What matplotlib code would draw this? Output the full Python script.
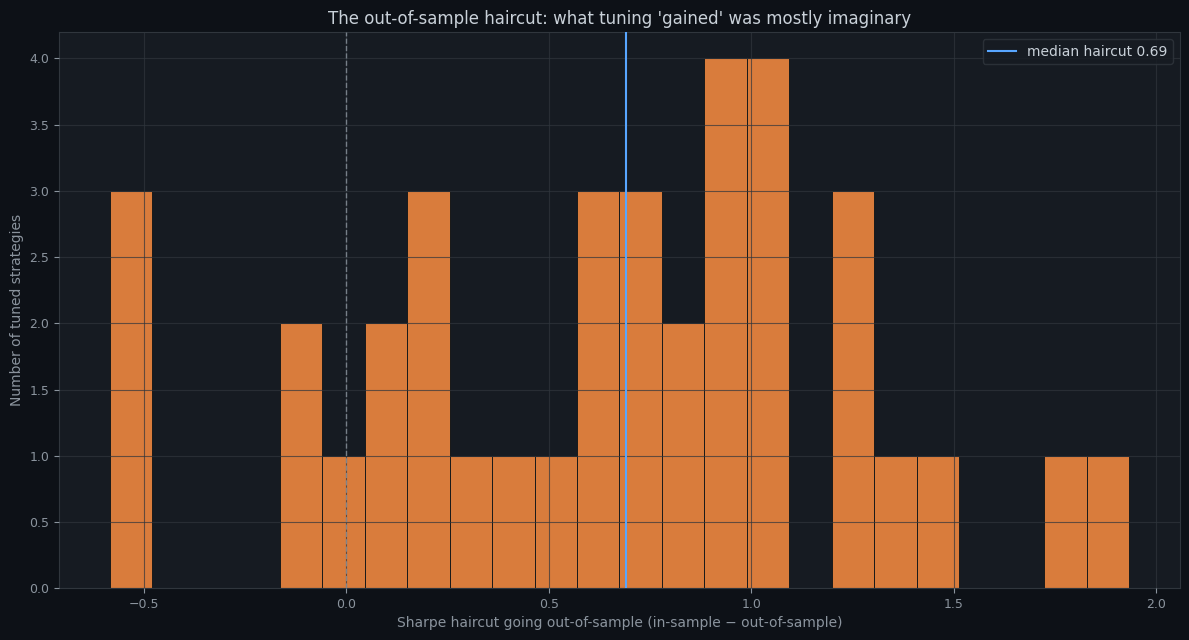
import numpy as np
import matplotlib
matplotlib.use("Agg")
import matplotlib.pyplot as plt

# histogram of Sharpe haircuts (in-sample minus out-of-sample)
bin_start = -0.584
bin_end = 1.933
counts = [3, 0, 0, 0, 2, 1, 2, 3, 1, 1, 1, 3, 3, 2, 4, 4, 0, 3, 1, 1, 0, 0, 1, 1]
median_haircut = 0.69

BG = "#0d1117"
PANEL = "#161b22"
TEXT = "#c9d1d9"
MUTED = "#8b949e"
GRID = "#30363d"
ORANGE = "#d97c3c"
BLUE = "#58a6ff"

edges = np.linspace(bin_start, bin_end, len(counts) + 1)
centers = (edges[:-1] + edges[1:]) / 2

fig, ax = plt.subplots(figsize=(11.89, 6.4), dpi=100)
fig.patch.set_facecolor(BG)
ax.set_facecolor(PANEL)

ax.hist(centers, bins=edges, weights=counts, color=ORANGE,
        edgecolor="#1a1a1a", linewidth=0.7, zorder=2)

ax.axvline(0, color=MUTED, linestyle="--", linewidth=1, alpha=0.8, zorder=3)
ax.axvline(median_haircut, color=BLUE, linewidth=1.5, zorder=4,
           label=f"median haircut {median_haircut:.2f}")

ax.set_axisbelow(False)
ax.grid(True, color=GRID, linewidth=0.8, alpha=0.7, zorder=2.5)

ax.set_title("The out-of-sample haircut: what tuning 'gained' was mostly imaginary",
             color=TEXT, fontsize=12)
ax.set_xlabel("Sharpe haircut going out-of-sample (in-sample \u2212 out-of-sample)",
              color=MUTED, fontsize=10)
ax.set_ylabel("Number of tuned strategies", color=MUTED, fontsize=10)
ax.tick_params(colors=MUTED, labelsize=9)
for spine in ax.spines.values():
    spine.set_color(GRID)

leg = ax.legend(loc="upper right", facecolor=PANEL, edgecolor=GRID, fontsize=10)
for t in leg.get_texts():
    t.set_color(TEXT)

fig.subplots_adjust(left=0.0496, right=0.9924, top=0.95, bottom=0.081)
plt.savefig("out.png", facecolor=BG)
